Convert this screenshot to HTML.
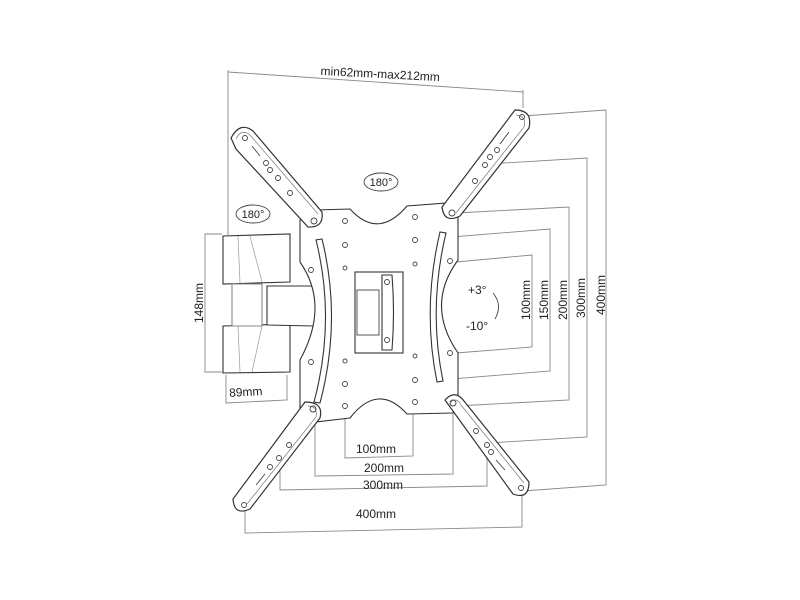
<!DOCTYPE html>
<html><head><meta charset="utf-8"><style>
html,body{margin:0;padding:0;background:#fff;}
svg{display:block;}
text{font-family:"Liberation Sans",sans-serif;fill:#222;}
</style></head><body>
<svg width="800" height="600" viewBox="0 0 800 600" xmlns="http://www.w3.org/2000/svg">
<g fill="none" stroke="#888" stroke-width="0.9">
  <line x1="228" y1="72" x2="523" y2="92"/>
  <line x1="228" y1="70" x2="228" y2="235"/>
  <line x1="523" y1="90" x2="523" y2="108"/>
  <polyline points="456,262 532,255 532,347 456,353"/>
  <polyline points="415,240 550,229 550,371 415,382"/>
  <polyline points="456,213 569,207 569,400 456,406"/>
  <polyline points="488,164 587,158 587,437 488,443"/>
  <polyline points="523,116 606,110 606,485 523,491"/>
  <polyline points="345,405 345,458 413,456 413,405"/>
  <polyline points="315,422 315,476 453,474 453,412"/>
  <polyline points="280,448 280,490 487,486 487,448"/>
  <polyline points="245,505 245,533 522,527 522,490"/>
  <polyline points="222,234 205,234 205,372 222,372"/>
  <polyline points="226,375 226,403 287,400 287,375"/>
</g>
<g fill="#fff" stroke="#333" stroke-width="1.1">
  <path d="M223,236 L290,234 L290,282 L223,284 Z"/>
  <path d="M223,326 L290,324 L290,372 L223,373 Z"/>
  <path d="M267,286 L312,286 Q318,305 314,326 L267,325 Z"/>
  <path d="M232,284 L262,284 L262,326 L232,326 Z" stroke="#888"/>
  <g stroke="#999" stroke-width="0.7">
    <line x1="238" y1="236" x2="240" y2="283"/><line x1="250" y1="236" x2="262" y2="282"/>
    <line x1="238" y1="326" x2="240" y2="372"/><line x1="262" y1="326" x2="252" y2="372"/>
  </g>
  <path d="M315,210 L350,209 Q378,240 407,206 L447,203 L458,213 L458,260 Q425,305 458,353 L458,397 L453,413 L407,414 Q378,382 350,418 L315,422 L300,415 L300,360 Q330,305 300,262 L300,220 Z"/>
  <path d="M316,240 Q336,320 314,402 L320,403 Q342,320 322,239 Z"/>
  <path d="M440,232 Q422,308 437,382 L443,381 Q428,308 446,233 Z"/>
  <rect x="355" y="272" width="48" height="81"/>
  <rect x="357" y="290" width="22" height="45" stroke="#666"/>
  <path d="M382,275 L392,275 Q395,312 392,350 L382,350 Z"/>
  <g stroke-width="1.2">
    <path d="M231,138 Q240,121 253,131 L322,212 Q324,228 308,227 L236,149 Z"/>
    <path d="M515,110 Q533,110 529,128 L460,216 Q444,224 442,207 Z"/>
    <path d="M305,402 Q324,402 320,418 L250,509 Q234,516 233,499 Z"/>
    <path d="M445,400 Q455,389 464,401 L529,482 Q529,500 513,494 Z"/>
  </g>
  <g fill="none" stroke="#777" stroke-width="0.7">
    <path d="M236,139 Q241,128 250,135 L318,214"/>
    <path d="M516,115 Q527,116 524,127 L456,213"/>
    <path d="M308,406 Q318,406 316,417 L247,504"/>
    <path d="M450,403 Q456,396 461,405 L524,483"/>
  </g>
</g>
<g fill="none" stroke="#444" stroke-width="0.9">
  <line x1="252" y1="146" x2="260" y2="156"/>
  <circle cx="245" cy="138" r="2.5"/><circle cx="266" cy="163" r="2.5"/><circle cx="270" cy="170" r="2.5"/><circle cx="278" cy="178" r="2.5"/><circle cx="290" cy="193" r="2.5"/><circle cx="314" cy="221" r="3"/>
  <line x1="509" y1="132" x2="500" y2="144"/>
  <circle cx="522" cy="117" r="2.5"/><circle cx="497" cy="150" r="2.5"/><circle cx="490" cy="157" r="2.5"/><circle cx="485" cy="165" r="2.5"/><circle cx="475" cy="181" r="2.5"/><circle cx="452" cy="213" r="3"/>
  <line x1="256" y1="485" x2="265" y2="474"/>
  <circle cx="244" cy="505" r="2.5"/><circle cx="270" cy="467" r="2.5"/><circle cx="279" cy="458" r="2.5"/><circle cx="289" cy="445" r="2.5"/><circle cx="313" cy="409" r="3"/>
  <line x1="505" y1="470" x2="496" y2="460"/>
  <circle cx="521" cy="488" r="2.5"/><circle cx="491" cy="452" r="2.5"/><circle cx="487" cy="445" r="2.5"/><circle cx="476" cy="431" r="2.5"/><circle cx="453" cy="403" r="3"/>
  <circle cx="345" cy="221" r="2.5"/><circle cx="345" cy="245" r="2.5"/><circle cx="345" cy="268" r="2"/>
  <circle cx="415" cy="217" r="2.5"/><circle cx="415" cy="240" r="2.5"/><circle cx="415" cy="264" r="2"/>
  <circle cx="345" cy="361" r="2"/><circle cx="345" cy="384" r="2.5"/><circle cx="345" cy="406" r="2.5"/>
  <circle cx="415" cy="356" r="2"/><circle cx="415" cy="380" r="2.5"/><circle cx="415" cy="402" r="2.5"/>
  <circle cx="311" cy="270" r="2.5"/><circle cx="311" cy="362" r="2.5"/>
  <circle cx="450" cy="261" r="2.5"/><circle cx="450" cy="353" r="2.5"/>
  <circle cx="387" cy="282" r="2.5"/><circle cx="387" cy="340" r="2.5"/>
  <ellipse cx="381" cy="182" rx="17" ry="9"/>
  <ellipse cx="253" cy="214" rx="17" ry="9"/>
  <path d="M493,293 Q503,305 495,319"/>
</g>
<g font-size="12">
  <text x="380" y="78" text-anchor="middle" transform="rotate(3 380 78)">min62mm-max212mm</text>
  <text x="381" y="186" text-anchor="middle" font-size="11">180°</text>
  <text x="253" y="218" text-anchor="middle" font-size="11">180°</text>
  <text x="468" y="294">+3°</text>
  <text x="466" y="330">-10°</text>
  <text x="376" y="453" text-anchor="middle">100mm</text>
  <text x="384" y="472" text-anchor="middle">200mm</text>
  <text x="383" y="489" text-anchor="middle">300mm</text>
  <text x="376" y="518" text-anchor="middle">400mm</text>
  <text x="246" y="396" text-anchor="middle" transform="rotate(-3 246 396)">89mm</text>
  <text x="0" y="0" transform="translate(203,303) rotate(-90)" text-anchor="middle">148mm</text>
  <text x="0" y="0" transform="translate(530,300) rotate(-90)" text-anchor="middle">100mm</text>
  <text x="0" y="0" transform="translate(548,300) rotate(-90)" text-anchor="middle">150mm</text>
  <text x="0" y="0" transform="translate(567,300) rotate(-90)" text-anchor="middle">200mm</text>
  <text x="0" y="0" transform="translate(585,298) rotate(-90)" text-anchor="middle">300mm</text>
  <text x="0" y="0" transform="translate(605,295) rotate(-90)" text-anchor="middle">400mm</text>
</g>
</svg>
</body></html>
